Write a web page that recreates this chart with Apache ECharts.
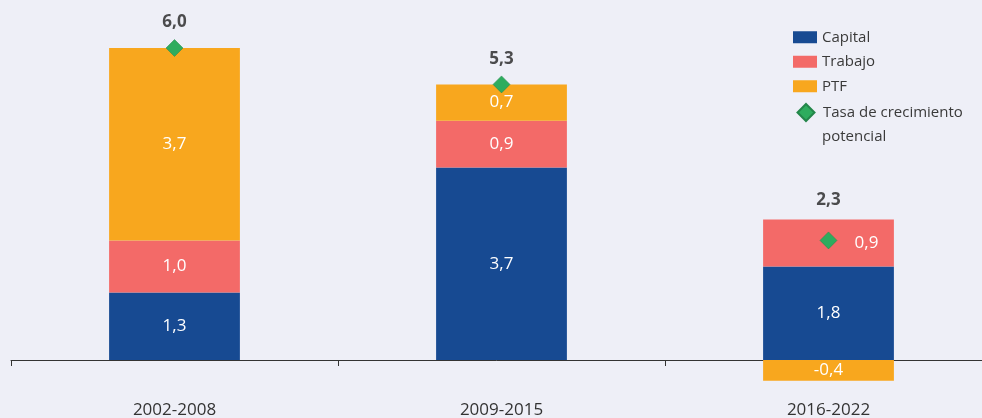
<!DOCTYPE html>
<html>
<head>
<meta charset="utf-8">
<script src="https://cdn.jsdelivr.net/npm/echarts@6/dist/echarts.min.js"></script>
<style>
  html, body { margin: 0; padding: 0; background: #eeeff7; }
  #chart { width: 982px; height: 418px; }
</style>
</head>
<body>
<div id="chart"></div>
<script>
// Contribuciones al crecimiento potencial por periodo (puntos porcentuales)
const categories = ['2002-2008', '2009-2015', '2016-2022'];
const capital = [1.3, 3.7, 1.8];
const trabajo = [1.0, 0.9, 0.9];
const ptf = [3.7, 0.7, -0.4];
const potencial = [6.0, 5.3, 2.3];

const FONT = '"Open Sans", "Noto Sans", sans-serif';
const fmt = v => v.toFixed(1).replace('.', ',');

const COLORS = {
  capital: '#174a92',
  trabajo: '#f36a68',
  ptf: '#f8a71e',
  tasa: '#2eac5e'
};

// Top of the positive part of each stack
const stackTop = categories.map((_, i) =>
  [capital[i], trabajo[i], ptf[i]].filter(v => v > 0).reduce((a, b) => a + b, 0)
);

const segLabel = {
  show: true,
  position: 'inside',
  color: '#ffffff',
  fontFamily: FONT,
  fontSize: 17,
  formatter: p => fmt(p.value)
};

// Move a segment's label aside when the diamond sits inside that segment
function segmentData(values, base) {
  return values.map((v, i) => {
    const lo = base[i], hi = base[i] + v;
    const hit = potencial[i] > Math.min(lo, hi) && potencial[i] < Math.max(lo, hi) &&
                Math.abs(potencial[i] - stackTop[i]) > 0.2;
    return hit ? { value: v, label: { offset: [38, 0] } } : v;
  });
}

const trabajoData = segmentData(trabajo, capital);

const totalsData = categories.map((_, i) => {
  const onTop = potencial[i] >= stackTop[i] - 0.05;
  return {
    value: Math.max(stackTop[i], potencial[i]),
    label: { distance: onTop ? 17 : 11, formatter: fmt(potencial[i]) }
  };
});

const legendText = { fontFamily: FONT, fontSize: 15, color: '#3a3a3a' };

const chart = echarts.init(document.getElementById('chart'), null, { renderer: 'canvas' });

chart.setOption({
  backgroundColor: '#eeeff7',
  animation: false,
  grid: { left: 11, width: 981, top: 48, bottom: 32, containLabel: false, outerBoundsMode: 'none' },
  legend: [
    {
      orient: 'vertical',
      left: 793,
      top: 25,
      padding: 0,
      itemWidth: 24,
      itemHeight: 12,
      itemGap: 0,
      icon: 'rect',
      selectedMode: false,
      textStyle: Object.assign({ lineHeight: 24.5 }, legendText),
      data: ['Capital', 'Trabajo', 'PTF']
    },
    {
      orient: 'vertical',
      left: 796.5,
      top: 103,
      padding: 0,
      itemWidth: 17,
      itemHeight: 17,
      icon: 'diamond',
      selectedMode: false,
      textStyle: Object.assign({ padding: [0, 0, 0, 3.5] }, legendText),
      formatter: () => 'Tasa de crecimiento',
      data: ['Tasa de crecimiento potencial']
    }
  ],
  // second line of the last legend entry
  graphic: [{
    type: 'text',
    left: 822,
    top: 129,
    style: { text: 'potencial', fill: '#3a3a3a', font: '15px ' + FONT }
  }],
  xAxis: [
    {
      // baseline at zero with boundary ticks
      type: 'category',
      data: categories,
      axisLine: { onZero: true, lineStyle: { color: '#333333', width: 1 } },
      axisTick: { show: true, length: 6, lineStyle: { color: '#333333' } },
      axisLabel: { show: false }
    },
    {
      // period labels along the bottom edge
      type: 'category',
      data: categories,
      position: 'bottom',
      axisLine: { show: false, onZero: false },
      axisTick: { show: false },
      axisLabel: { margin: 16, fontFamily: FONT, fontSize: 17, color: '#333333' }
    }
  ],
  yAxis: {
    type: 'value',
    min: -0.5,
    max: 6,
    show: false,
    splitLine: { show: false }
  },
  series: [
    {
      name: 'Capital', type: 'bar', stack: 'total', barWidth: '40%',
      itemStyle: { color: COLORS.capital },
      label: segLabel,
      data: capital
    },
    {
      name: 'Trabajo', type: 'bar', stack: 'total',
      itemStyle: { color: COLORS.trabajo },
      label: segLabel,
      data: trabajoData
    },
    {
      name: 'PTF', type: 'bar', stack: 'total',
      itemStyle: { color: COLORS.ptf },
      label: segLabel,
      data: ptf
    },
    {
      name: 'Tasa de crecimiento potencial', type: 'scatter',
      symbol: 'diamond', symbolSize: 17, z: 5,
      itemStyle: { color: COLORS.tasa, opacity: 1, borderColor: '#23864a', borderWidth: 0.5 },
      data: potencial
    },
    {
      name: 'totales', type: 'scatter', symbolSize: 0, silent: true, z: 6,
      label: {
        show: true, position: 'top',
        fontFamily: FONT, fontSize: 17, fontWeight: 'bold', color: '#222222'
      },
      data: totalsData
    }
  ]
});
</script>
</body>
</html>
